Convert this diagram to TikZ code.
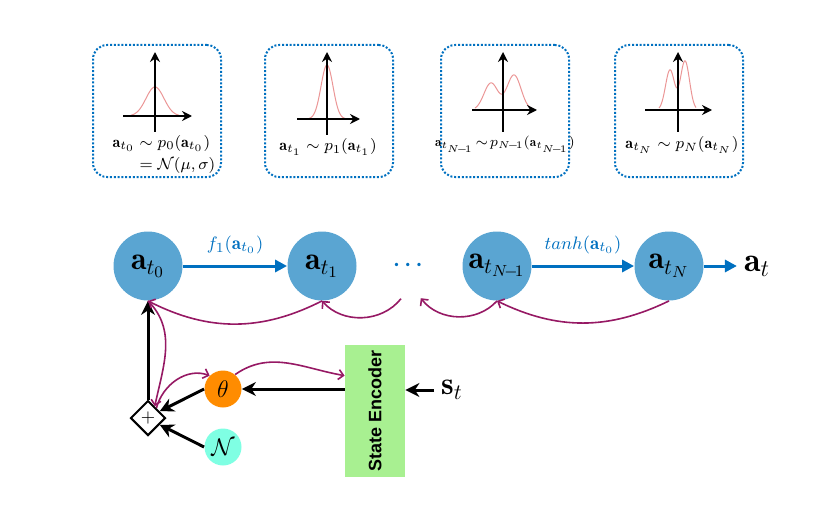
\documentclass[tikz,border=0pt]{standalone}
\usepackage{amsmath,amssymb,graphicx}
\usepackage{fontspec}
\newfontfamily\encfont{Liberation Sans}
\usetikzlibrary{arrows.meta,positioning,shapes.geometric,calc}
\definecolor{stepblue}{RGB}{90,165,210}
\definecolor{flowblue}{RGB}{0,112,192}
\definecolor{gradpurple}{RGB}{150,25,100}
\definecolor{thetaorange}{RGB}{255,140,0}
\definecolor{noiseaqua}{RGB}{127,255,227}
\definecolor{encgreen}{RGB}{168,240,145}
\definecolor{densred}{RGB}{235,150,150}

\begin{document}
\begin{tikzpicture}[x=0.5pt,y=-0.5pt,
  distbox/.style={draw=flowblue,rounded corners=7pt,line width=1pt,
    dash pattern=on 1pt off 0.9pt,minimum width=64pt,minimum height=66pt},
  axisarrow/.style={-{Stealth[length=5pt,width=5pt]},line width=1pt},
  density/.style={densred,line width=0.5pt},
  distlabel/.style={font=\fontsize{8}{8}\selectfont,inner sep=1pt},
  stepnode/.style={circle,fill=stepblue,minimum size=34.5pt,inner sep=0pt,
    font=\fontsize{16}{18}\selectfont},
  fwd/.style={-{Triangle[length=6pt,width=6pt]},line width=1.5pt,flowblue},
  grad/.style={-{Straight Barb[length=2.5pt,width=5pt]},gradpurple,line width=0.8pt},
  blk/.style={-{Stealth[length=7pt,width=7pt]},line width=1.5pt,black},
  smallnode/.style={circle,minimum size=18.5pt,inner sep=0pt,font=\fontsize{13}{15}\selectfont}
]
  \useasboundingbox (0,0) rectangle (830,519);

  % Distribution boxes
  \node[distbox] (box0) at (157,111) {};
  \node[distbox] (box1) at (329,111) {};
  \node[distbox] (box2) at (505,111) {};
  \node[distbox] (box3) at (679,111) {};

  \draw[density] plot[domain=-24:24,samples=60] ({155+\x},{116-29*exp(-(\x/9)^2/2)});
  \draw[axisarrow] (123,116) -- (192,116);
  \draw[axisarrow] (155,132) -- (155,52);

  \draw[density] plot[domain=-18:18,samples=60] ({327+\x},{119-54*exp(-(\x/6)^2/2)});
  \draw[axisarrow] (297,119) -- (360,119);
  \draw[axisarrow] (327,135) -- (327,52);

  \draw[density] plot[domain=475:532,samples=80] (\x,{110-27*exp(-((\x-491)/7)^2/2)-35*exp(-((\x-514)/7)^2/2)});
  \draw[axisarrow] (472,110) -- (537,110);
  \draw[axisarrow] (503,132) -- (503,52);

  \draw[density] plot[domain=659:696,samples=80] (\x,{110-40*exp(-((\x-670)/4.5)^2/2)-49*exp(-((\x-685)/4.5)^2/2)});
  \draw[axisarrow] (645,110) -- (712,110);
  \draw[axisarrow] (678,132) -- (678,52);

  \node[distlabel] (lbl0) at (164,155) {$\begin{aligned}\mathbf{a}_{t_0} &\sim p_0(\mathbf{a}_{t_0})\\[-1pt] &= \mathcal{N}(\mu,\sigma)\end{aligned}$};
  \node[distlabel] (lbl1) at (328,147) {$\mathbf{a}_{t_1}\sim p_1(\mathbf{a}_{t_1})$};
  \node[distlabel,font=\fontsize{6.6}{7}\selectfont] (lbl2) at (505,145) {$\mathbf{a}_{t_{N\!-\!1}}\mkern2mu{\sim}\mkern2mu p_{N\!-\!1}(\mathbf{a}_{t_{N\!-\!1}})$};
  \node[distlabel] (lbl3) at (682,145) {$\mathbf{a}_{t_N}\sim p_N(\mathbf{a}_{t_N})$};

  % Flow steps
  \node[stepnode] (t0) at (148,266) {$\mathbf{a}_{t_0}$};
  \node[stepnode] (t1) at (322,266) {$\mathbf{a}_{t_1}$};
  \node[circle,minimum size=34.5pt,inner sep=0pt,text=flowblue,
    font=\fontsize{11}{12}\selectfont] (dots) at (410,265) {$\boldsymbol{\cdots}$};
  \node[stepnode] (tN1) at (497,266) {$\mathbf{a}_{t_{N\!-\!1}}$};
  \node[stepnode] (tN) at (669,266) {$\mathbf{a}_{t_N}$};
  \node[font=\fontsize{17}{18}\selectfont] (at) at (757,266) {$\mathbf{a}_t$};

  \draw[fwd] (t0) -- node[midway,above=2pt,text=flowblue,font=\fontsize{9.5}{10}\selectfont] (flab) {$f_1(\mathbf{a}_{t_0})$} (t1);
  \draw[fwd] (tN1) -- node[midway,above=2pt,text=flowblue,font=\fontsize{9.5}{10}\selectfont] (tlab) {$tanh(\mathbf{a}_{t_0})$} (tN);
  \draw[fwd] (tN) -- (at);

  % Sampling and encoder
  \node[diamond,draw,line width=1pt,fill=white,minimum size=17.5pt,inner sep=0pt,
    font=\fontsize{9}{10}\selectfont] (plus) at (148,418) {$+$};
  \node[smallnode,fill=thetaorange] (theta) at (223,389) {$\theta$};
  \node[smallnode,fill=noiseaqua] (noise) at (223,447) {$\mathcal{N}$};
  \node[fill=encgreen,minimum width=30pt,minimum height=66pt,inner sep=0pt,
    font=\encfont\bfseries\fontsize{9}{10}\selectfont] (enc) at (375,411) {\rotatebox{90}{State Encoder}};
  \node[font=\fontsize{16}{17}\selectfont] (st) at (452,390) {$\mathbf{s}_t$};

  \draw[blk] (plus.north) -- (t0.south);
  \draw[blk] (theta.west) -- (plus.30);
  \draw[blk] (noise.west) -- (plus.-30);
  \draw[blk] (enc.west |- theta.east) -- (theta.east);
  \draw[blk] (st.west) -- (st.west -| enc.east);

  % Gradient path
  \draw[grad] (tN.south) to[bend left=26] (tN1.south);
  \draw[grad] (tN1.south) to[bend left=50] (dots.-72);
  \draw[grad] (dots.-105) to[bend left=50] (t1.south);
  \draw[grad] (t1.south) to[bend left=27] (t0.south);
  \draw[grad] (t0.south) to[out=-45,in=78] (plus.60);
  \draw[grad] (plus.50) to[out=75,in=160] (theta.135);
  \draw[grad] (theta.50) to[out=35,in=170] (enc.west |- theta.45);
\end{tikzpicture}
\end{document}
